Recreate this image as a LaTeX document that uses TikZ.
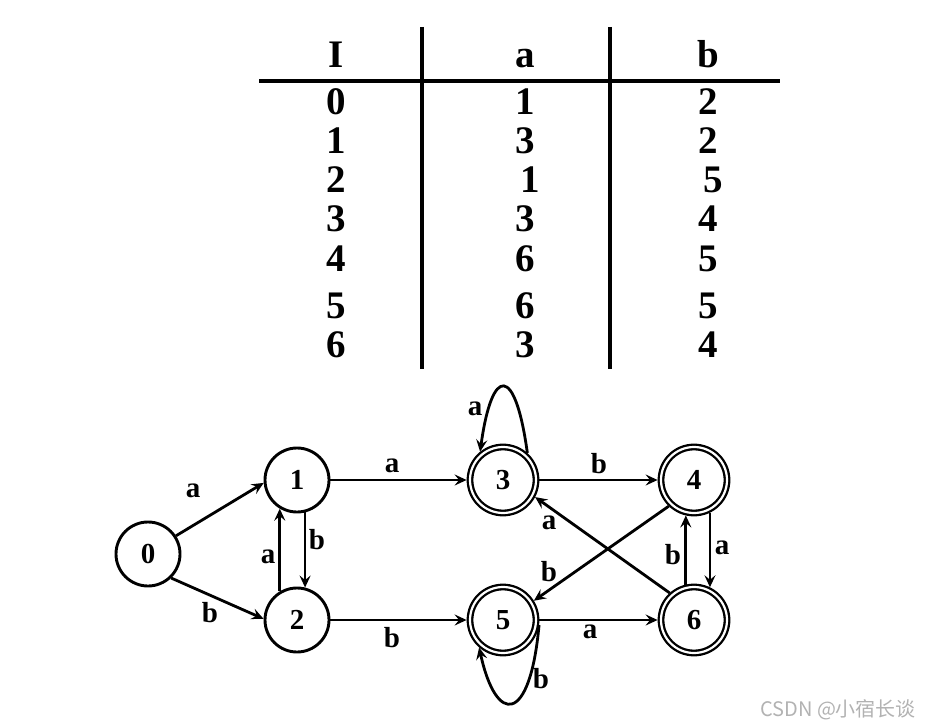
\documentclass[tikz,border=0pt]{standalone}
\usepackage{fontspec}
\setmainfont{Liberation Serif}
\newfontfamily\cjkfont{Noto Sans CJK SC}
\usetikzlibrary{arrows.meta}
\definecolor{wmgray}{RGB}{178,178,178}
\begin{document}
\begin{tikzpicture}[x=1pt,y=-1pt,
  tabtxt/.style={font=\fontsize{39}{41}\selectfont\bfseries, inner sep=0pt, anchor=base},
  tabline/.style={line width=3.2pt},
  statenode/.style={circle, draw, line width=2.9pt, minimum size=64pt, inner sep=0pt, outer sep=1.45pt,
     font=\fontsize{29}{31}\selectfont\bfseries},
  acceptnode/.style={circle, draw, line width=2.3pt, double, double distance=2.2pt, minimum size=66pt,
     inner sep=0pt, outer sep=3.4pt, font=\fontsize{29}{31}\selectfont\bfseries},
  edgearrow/.style={line width=2.8pt, -{Stealth[length=12pt,width=11pt,inset=4.5pt]}},
  lbl/.style={font=\fontsize{29}{31}\selectfont\bfseries, inner sep=0pt}
]
\useasboundingbox (0,0) rectangle (926,727);

% ---------- table ----------
\coordinate (hl) at (259,81);
\coordinate (hr) at (780,81);
\coordinate (v1t) at (422,27);
\coordinate (v1b) at (422,369);
\coordinate (v2t) at (610,27);
\coordinate (v2b) at (610,369);
\draw[tabline] (hl) -- (hr);
\draw[tabline] (v1t) -- (v1b);
\draw[tabline] (v2t) -- (v2b);

\node[tabtxt] (hI) at (336,68) {I};
\node[tabtxt] (ha) at (525,68) {a};
\node[tabtxt] (hb) at (708,68) {b};

\node[tabtxt] (r0i) at (336,115) {0};
\node[tabtxt] (r0a) at (525,115) {1};
\node[tabtxt] (r0b) at (708,115) {2};
\node[tabtxt] (r1i) at (336,154) {1};
\node[tabtxt] (r1a) at (525,154) {3};
\node[tabtxt] (r1b) at (708,154) {2};
\node[tabtxt] (r2i) at (336,193) {2};
\node[tabtxt] (r2a) at (530,193) {1};
\node[tabtxt] (r2b) at (713,193) {5};
\node[tabtxt] (r3i) at (336,232) {3};
\node[tabtxt] (r3a) at (525,232) {3};
\node[tabtxt] (r3b) at (708,232) {4};
\node[tabtxt] (r4i) at (336,272) {4};
\node[tabtxt] (r4a) at (525,272) {6};
\node[tabtxt] (r4b) at (708,272) {5};
\node[tabtxt] (r5i) at (336,318) {5};
\node[tabtxt] (r5a) at (525,318) {6};
\node[tabtxt] (r5b) at (708,318) {5};
\node[tabtxt] (r6i) at (336,357) {6};
\node[tabtxt] (r6a) at (525,357) {3};
\node[tabtxt] (r6b) at (708,357) {4};

% ---------- automaton ----------
\node[statenode] (n0) at (148,554) {0};
\node[statenode] (n1) at (297,480) {1};
\node[statenode] (n2) at (297,620) {2};
\node[acceptnode] (n3) at (503,480) {3};
\node[acceptnode] (n4) at (694,480) {4};
\node[acceptnode] (n5) at (503,620) {5};
\node[acceptnode] (n6) at (694,620) {6};

\draw[edgearrow] (n0.33) -- (n1.185);
\draw[edgearrow] (n0.-46) -- (n2.178);
\draw[edgearrow] (n1.-76) -- (n2.76);
\draw[edgearrow] (n2.121) -- (n1.-121);
\draw[edgearrow] (n1.east) -- (n3.west);
\draw[edgearrow] (n2.east) -- (n5.west);
\draw[edgearrow] (n3.east) -- (n4.west);
\draw[edgearrow] (n5.east) -- (n6.west);
\draw[edgearrow] (n4.-64) -- (n6.64);
\draw[edgearrow] (n6.103) -- (n4.-103);
\draw[edgearrow] (n4.-134) -- (n5.32);
\draw[edgearrow] (n6.132) -- (n3.-28);
\draw[edgearrow] (n3.48) .. controls +(-12,-88) and +(12,-87) .. (n3.129);
\draw[edgearrow] (n5.-8) .. controls +(-9,100) and +(17,78) .. (n5.-131);

\node[lbl] (l01) at (193,491) {a};
\node[lbl] (l02) at (210,613) {b};
\node[lbl] (l21) at (268,557) {a};
\node[lbl] (l12) at (317,540) {b};
\node[lbl] (l13) at (392,466) {a};
\node[lbl] (l25) at (392,638) {b};
\node[lbl] (l33) at (475,409) {a};
\node[lbl] (l55) at (541,679) {b};
\node[lbl] (l34) at (599,464) {b};
\node[lbl] (l63) at (549,523) {a};
\node[lbl] (l45) at (549,572) {b};
\node[lbl] (l64) at (673,555) {b};
\node[lbl] (l46) at (722,548) {a};
\node[lbl] (l56) at (590,632) {a};

% ---------- watermark ----------
\node[font=\cjkfont\fontsize{20}{22}\selectfont, text=wmgray, anchor=west, inner sep=0pt] (wm) at (760,710) {CSDN @小宿长谈};
\end{tikzpicture}
\end{document}
